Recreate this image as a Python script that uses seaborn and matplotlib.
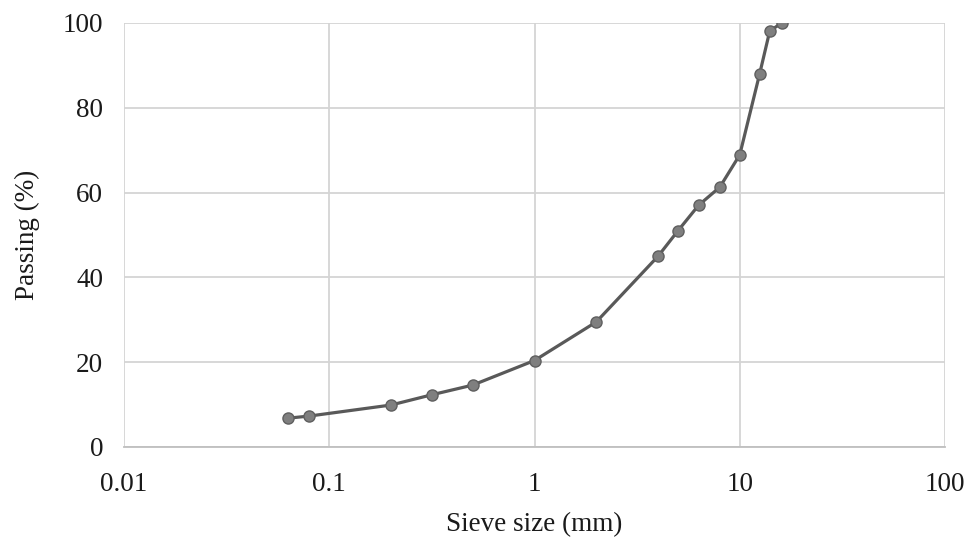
import numpy as np
import pandas as pd
import matplotlib
matplotlib.use("Agg")
import matplotlib.pyplot as plt
import seaborn as sns
from matplotlib.ticker import FixedLocator, FuncFormatter

# Sieve analysis data
sieve_size = [0.063, 0.08, 0.2, 0.315, 0.5, 1, 2, 4, 5, 6.3, 8, 10, 12.5, 14, 16]
passing = [6.8, 7.3, 9.9, 12.3, 14.6, 20.4, 29.5, 45.0, 51.0, 57.0, 61.3, 68.9, 88.0, 98.1, 100.0]
x_ticks = [0.01, 0.1, 1, 10, 100]
x_tick_labels = ["0.01", "0.1", "1", "10", "100"]
y_ticks = [0, 20, 40, 60, 80, 100]

df = pd.DataFrame({"size": sieve_size, "passing": passing})

sns.set_style("white")
plt.rcParams["font.family"] = ["Liberation Serif", "DejaVu Serif"]

grid_col = "#d4d4d4"

fig = plt.figure(figsize=(9.71, 5.41), dpi=100)
ax = fig.add_axes([124 / 971, 1 - 447 / 541, (945 - 124) / 971, (447 - 23) / 541])

sns.lineplot(data=df, x="size", y="passing", ax=ax, color="#595959", linewidth=2.3,
             marker="o", markersize=8, markerfacecolor="#7f7f7f",
             markeredgecolor="#5f5f5f", markeredgewidth=1, zorder=3)

ax.set_xscale("log")
ax.set_xlim(0.01, 100)
ax.set_ylim(0, 100)
ax.xaxis.set_major_locator(FixedLocator(x_ticks))
ax.xaxis.set_minor_locator(FixedLocator([]))
ax.xaxis.set_major_formatter(FuncFormatter(lambda v, p: x_tick_labels[x_ticks.index(v)] if v in x_ticks else ""))
ax.yaxis.set_major_locator(FixedLocator(y_ticks))

ax.grid(True, color=grid_col, linewidth=1.3)
for s in ["top", "right", "left"]:
    ax.spines[s].set_visible(False)
ax.spines["bottom"].set_color("#bfbfbf")
ax.spines["bottom"].set_linewidth(1.3)

ax.tick_params(axis="both", which="major", direction="out", length=9, width=1.3,
               color=grid_col, labelsize=19.5, labelcolor="#1a1a1a", pad=6)
ax.tick_params(axis="x", pad=9)

ax.set_xlabel("Sieve size (mm)", fontsize=19.5, color="#1a1a1a", labelpad=11)
ax.set_ylabel("Passing (%)", fontsize=19.5, color="#1a1a1a", labelpad=16)

fig.savefig("out.png", dpi=100)
